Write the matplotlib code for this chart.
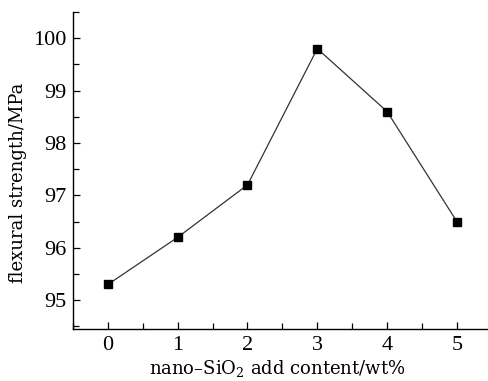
import matplotlib
matplotlib.use("Agg")
import matplotlib.pyplot as plt
from matplotlib.ticker import MultipleLocator

x = [0, 1, 2, 3, 4, 5]
strength = [95.3, 96.2, 97.2, 99.8, 98.6, 96.5]
xticks = [0, 1, 2, 3, 4, 5]
yticks = [95, 96, 97, 98, 99, 100]

plt.rcParams['font.family'] = ['Liberation Serif', 'DejaVu Serif']
plt.rcParams['mathtext.fontset'] = 'custom'
plt.rcParams['mathtext.rm'] = 'DejaVu Serif'

fig = plt.figure(figsize=(4.89, 3.81), dpi=100)
ax = fig.add_axes([73/489, 52/381, 1 - 73/489, (329-12)/381])
ax.plot(x, strength, color='#333333', lw=0.9, marker='s', ms=5.5,
        mfc='black', mec='black')
ax.set_xlim(-0.5, 5.46)
ax.set_ylim(94.45, 100.5)
ax.set_xticks(xticks)
ax.set_yticks(yticks)
ax.xaxis.set_minor_locator(MultipleLocator(0.5))
ax.yaxis.set_minor_locator(MultipleLocator(0.5))
ax.tick_params(which='both', direction='in', length=5, width=0.9, labelsize=16, pad=5)
ax.tick_params(axis='x', which='minor', length=4)
ax.tick_params(axis='y', which='minor', length=4)
for s in ['top', 'right']:
    ax.spines[s].set_visible(False)
for s in ['left', 'bottom']:
    ax.spines[s].set_linewidth(1.0)
ax.set_ylabel('flexural strength/MPa', fontsize=13, family='DejaVu Serif')
ax.set_xlabel('nano\u2013SiO$_\\mathrm{2}$ add content/wt%', fontsize=13, family='DejaVu Serif')
ax.yaxis.set_label_coords(-0.11, 0.46)
ax.xaxis.set_label_coords(0.49, -0.0915)
fig.savefig('out.png', dpi=100)
